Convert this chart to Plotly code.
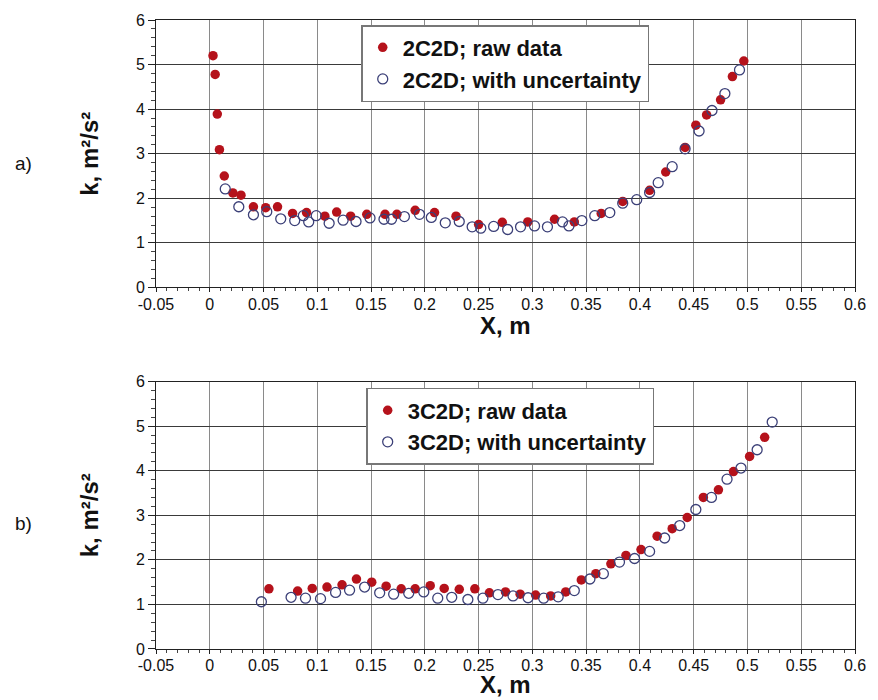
import plotly.graph_objects as go

# ---------------- data ----------------
top_raw_x = [0.003, 0.005, 0.007, 0.009, 0.0135, 0.0215, 0.029, 0.0406, 0.052, 0.063,
             0.077, 0.090, 0.107, 0.118, 0.131, 0.146, 0.163, 0.174, 0.191, 0.209,
             0.229, 0.250, 0.272, 0.2957, 0.3206, 0.339, 0.364, 0.384, 0.409, 0.424,
             0.442, 0.452, 0.462, 0.475, 0.486, 0.4966]
top_raw_y = [5.20, 4.78, 3.89, 3.09, 2.50, 2.12, 2.07, 1.81, 1.79, 1.81,
             1.66, 1.68, 1.60, 1.69, 1.60, 1.64, 1.64, 1.64, 1.73, 1.68,
             1.60, 1.41, 1.46, 1.47, 1.53, 1.47, 1.66, 1.93, 2.18, 2.59,
             3.14, 3.64, 3.87, 4.21, 4.73, 5.08]

top_unc_x = [0.0144, 0.027, 0.0406, 0.053, 0.066, 0.079, 0.087, 0.092, 0.099, 0.111,
             0.124, 0.136, 0.149, 0.162, 0.169, 0.181, 0.195, 0.206, 0.219, 0.232,
             0.244, 0.252, 0.264, 0.277, 0.289, 0.302, 0.314, 0.328, 0.334, 0.346,
             0.358, 0.372, 0.384, 0.397, 0.409, 0.417, 0.430, 0.442, 0.455, 0.467,
             0.479, 0.4926]
top_unc_y = [2.21, 1.81, 1.63, 1.70, 1.54, 1.50, 1.61, 1.47, 1.61, 1.44,
             1.51, 1.48, 1.56, 1.53, 1.53, 1.59, 1.64, 1.57, 1.45, 1.48,
             1.36, 1.33, 1.37, 1.30, 1.36, 1.38, 1.36, 1.47, 1.38, 1.50,
             1.61, 1.68, 1.89, 1.97, 2.13, 2.35, 2.71, 3.11, 3.51, 3.97,
             4.35, 4.88]

bot_raw_x = [0.055, 0.0817, 0.0953, 0.109, 0.123, 0.1364, 0.1506, 0.164, 0.178, 0.191,
             0.205, 0.218, 0.232, 0.2465, 0.260, 0.275, 0.2886, 0.303, 0.317, 0.331,
             0.3455, 0.359, 0.373, 0.387, 0.401, 0.416, 0.430, 0.444, 0.459, 0.473,
             0.487, 0.502, 0.516]
bot_raw_y = [1.35, 1.30, 1.36, 1.39, 1.44, 1.57, 1.50, 1.41, 1.35, 1.35,
             1.42, 1.36, 1.34, 1.35, 1.26, 1.28, 1.23, 1.21, 1.19, 1.28,
             1.55, 1.69, 1.91, 2.10, 2.23, 2.53, 2.70, 2.95, 3.40, 3.57,
             3.98, 4.32, 4.75]

bot_unc_x = [0.048, 0.0756, 0.089, 0.103, 0.117, 0.130, 0.144, 0.158, 0.171, 0.185,
             0.199, 0.212, 0.225, 0.240, 0.254, 0.268, 0.282, 0.296, 0.3105, 0.324,
             0.339, 0.3535, 0.366, 0.381, 0.395, 0.409, 0.423, 0.437, 0.452, 0.4665,
             0.481, 0.494, 0.509, 0.523]
bot_unc_y = [1.06, 1.16, 1.14, 1.13, 1.27, 1.32, 1.39, 1.26, 1.23, 1.25,
             1.28, 1.14, 1.16, 1.11, 1.14, 1.22, 1.19, 1.15, 1.14, 1.17,
             1.31, 1.57, 1.69, 1.95, 2.03, 2.19, 2.49, 2.77, 3.13, 3.40,
             3.81, 4.06, 4.47, 5.09]

x_tick_vals = [-0.05, 0, 0.05, 0.1, 0.15, 0.2, 0.25, 0.3, 0.35, 0.4, 0.45, 0.5, 0.55, 0.6]
x_tick_text = ["-0.05", "0", "0.05", "0.1", "0.15", "0.2", "0.25", "0.3", "0.35",
               "0.4", "0.45", "0.5", "0.55", "0.6"]
y_tick_vals = [0, 1, 2, 3, 4, 5, 6]
y_tick_text = ["0", "1", "2", "3", "4", "5", "6"]

names_top = ["2C2D; raw data", "2C2D; with uncertainty"]
names_bot = ["3C2D; raw data", "3C2D; with uncertainty"]
panel_labels = ["a)", "b)"]
x_title = "<b>X, m</b>"
y_title = "<b>k, m²/s²</b>"

# ---------------- styles ----------------
FONT = "Liberation Sans, Arial, sans-serif"
RED = "#b5121b"
NAVY = "#3c4078"

raw_marker = dict(symbol="circle", size=9.5, color=RED, line=dict(width=0))
unc_marker = dict(symbol="circle-open", size=10, color=NAVY, line=dict(width=1.3, color=NAVY))

fig = go.Figure()
fig.add_trace(go.Scatter(x=top_raw_x, y=top_raw_y, mode="markers", name=names_top[0],
                         marker=raw_marker, xaxis="x", yaxis="y", legend="legend"))
fig.add_trace(go.Scatter(x=top_unc_x, y=top_unc_y, mode="markers", name=names_top[1],
                         marker=unc_marker, xaxis="x", yaxis="y", legend="legend"))
fig.add_trace(go.Scatter(x=bot_raw_x, y=bot_raw_y, mode="markers", name=names_bot[0],
                         marker=raw_marker, xaxis="x2", yaxis="y2", legend="legend2"))
fig.add_trace(go.Scatter(x=bot_unc_x, y=bot_unc_y, mode="markers", name=names_bot[1],
                         marker=unc_marker, xaxis="x2", yaxis="y2", legend="legend2"))

def xaxis_cfg(anchor):
    return dict(
        anchor=anchor, domain=[0, 1], range=[-0.05, 0.6],
        tickmode="array", tickvals=x_tick_vals, ticktext=x_tick_text,
        ticks="outside", ticklen=4, tickcolor="#222", tickwidth=1,
        minor=dict(dtick=0.01, ticks="outside", ticklen=3, tickcolor="#444", showgrid=False),
        showgrid=True, gridcolor="#8a8a8a", gridwidth=1,
        showline=True, linecolor="#222", linewidth=1, mirror=True,
        zeroline=False, ticklabeloverflow="allow", ticklabelstandoff=-2,
        tickfont=dict(family=FONT, size=16, color="#111"),
    )

def yaxis_cfg(anchor, dom):
    return dict(
        anchor=anchor, domain=dom, range=[0, 6],
        tickmode="array", tickvals=y_tick_vals, ticktext=y_tick_text,
        ticks="outside", ticklen=7, tickcolor="#222", tickwidth=1,
        minor=dict(dtick=0.2, ticks="outside", ticklen=4, tickcolor="#444", showgrid=False),
        showgrid=True, gridcolor="#3a3a3a", gridwidth=1,
        showline=True, linecolor="#222", linewidth=1, mirror=True,
        zeroline=False,
        tickfont=dict(family=FONT, size=16, color="#111"),
        title=dict(text=y_title, font=dict(family=FONT, size=24, color="#111"), standoff=30),
    )

legend_style = dict(
    bgcolor="white", bordercolor="#777", borderwidth=1.5,
    font=dict(family=FONT, size=22, color="#111", weight="bold"),
    xanchor="left", yanchor="top", tracegroupgap=0, itemsizing="trace",
)

title_font = dict(family=FONT, size=24, color="#111")
label_font = dict(family=FONT, size=19, color="#111")

fig.update_layout(
    width=878, height=700,
    margin=dict(l=156, r=17, t=14, b=51),
    paper_bgcolor="white", plot_bgcolor="white",
    xaxis=xaxis_cfg("y"),
    yaxis=yaxis_cfg("x", [0.5748, 1.0]),
    xaxis2=xaxis_cfg("y2"),
    yaxis2=yaxis_cfg("x2", [0.0, 0.4252]),
    legend=dict(x=0.2936, y=0.992, **legend_style),
    legend2=dict(x=0.3007, y=0.415, **legend_style),
    annotations=[
        # x-axis titles
        dict(text=x_title, xref="x domain", yref="y domain", x=0.5, y=-0.142,
             xanchor="center", yanchor="middle", height=26, valign="middle",
             showarrow=False, font=title_font),
        dict(text=x_title, xref="x2 domain", yref="y2 domain", x=0.5, y=-0.13,
             xanchor="center", yanchor="middle", height=26, valign="middle",
             showarrow=False, font=title_font),
        # panel labels
        dict(text=panel_labels[0], xref="paper", yref="paper", x=-0.19, y=0.7717,
             xanchor="center", yanchor="middle", showarrow=False, font=label_font),
        dict(text=panel_labels[1], xref="paper", yref="paper", x=-0.19, y=0.20,
             xanchor="center", yanchor="middle", showarrow=False, font=label_font),
    ],
)

# remove the default page margin so the 878x700 figure fills the window exactly
fig.write_html(
    "out.html",
    config={"displayModeBar": False},
    post_script="document.body.style.margin='0';document.body.style.overflow='hidden';",
)
